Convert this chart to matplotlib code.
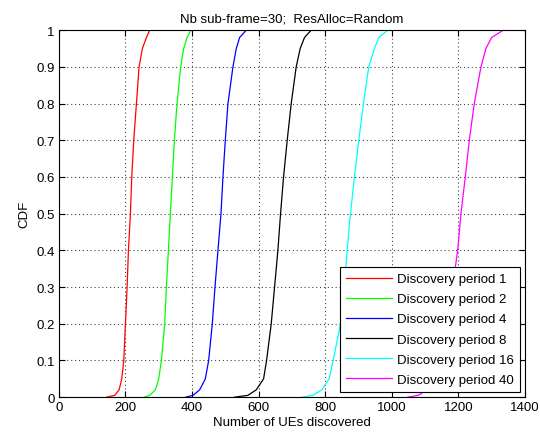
import matplotlib
matplotlib.use('Agg')
import matplotlib.pyplot as plt
import numpy as np

plt.rcParams['font.family'] = ['Liberation Sans', 'DejaVu Sans']

cdf_levels = [0, 0.005, 0.02, 0.05, 0.1, 0.2, 0.3, 0.4, 0.5, 0.6, 0.7, 0.8, 0.9, 0.95, 0.98, 1]

period_1 = [143, 168, 181, 189, 195, 200, 205, 209, 215, 219, 225, 233, 241, 251, 263, 273]
period_2 = [256, 273, 290, 300, 308, 318, 323, 329, 335, 341, 347, 355, 366, 375, 385, 397]
period_4 = [381, 403, 423, 440, 450, 461, 469, 478, 487, 493, 500, 508, 523, 533, 543, 563]
period_8 = [528, 568, 593, 615, 624, 638, 648, 658, 666, 675, 686, 698, 713, 725, 738, 758]
period_16 = [731, 763, 790, 812, 824, 846, 858, 866, 876, 888, 901, 915, 931, 948, 961, 988]
period_40 = [1048, 1080, 1105, 1125, 1142, 1165, 1183, 1198, 1208, 1221, 1233, 1248, 1268, 1283, 1300, 1335]

labels = ['Discovery period 1', 'Discovery period 2', 'Discovery period 4',
          'Discovery period 8', 'Discovery period 16', 'Discovery period 40']
colors = ['#ff0000', '#00ff00', '#0000ff', '#000000', '#00ffff', '#ff00ff']
series = [period_1, period_2, period_4, period_8, period_16, period_40]

fig = plt.figure(figsize=(5.4, 4.39), dpi=100)
ax = fig.add_axes([0.109, 0.093, 0.863, 0.836])

for xs, c, lab in zip(series, colors, labels):
    ax.plot(xs, cdf_levels, color=c, linewidth=0.9, label=lab)

ax.set_xlim(0, 1400)
ax.set_ylim(0, 1)
ax.set_xticks(np.arange(0, 1401, 200))
ax.set_yticks(np.arange(0, 1.01, 0.1))
ax.set_yticklabels(['0', '0.1', '0.2', '0.3', '0.4', '0.5', '0.6', '0.7', '0.8', '0.9', '1'])
ax.grid(True, linestyle=(0, (1, 2.5)), color='#444444', linewidth=0.8)
ax.tick_params(direction='in', top=True, right=True, labelsize=9.5, length=4, pad=3)
for s in ax.spines.values():
    s.set_linewidth(0.8)

ax.set_xlabel('Number of UEs discovered', fontsize=9.5, labelpad=2)
ax.set_ylabel('CDF', fontsize=9.5, labelpad=4)
ax.set_title('Nb sub-frame=30;  ResAlloc=Random', fontsize=9.5, pad=6)

leg = ax.legend(loc='lower right', fontsize=9.5, fancybox=False, framealpha=1,
                edgecolor='black', borderaxespad=0.4, handlelength=3.5,
                handletextpad=0.35, labelspacing=0.6, borderpad=0.45)
leg.get_frame().set_linewidth(0.8)

fig.savefig('out.png', dpi=100)
